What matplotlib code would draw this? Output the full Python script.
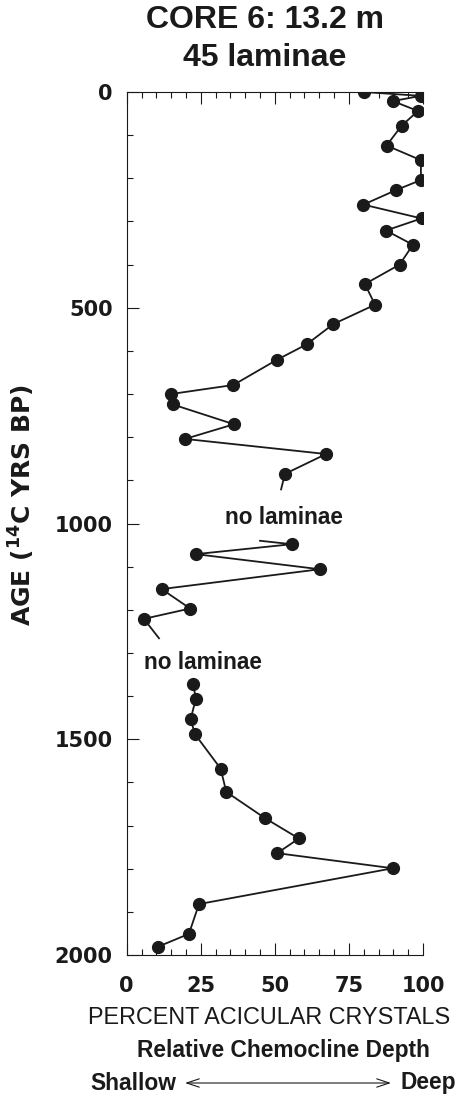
import matplotlib.pyplot as plt
from matplotlib.ticker import MultipleLocator

# ----------------------------------------------------------------
# Data
# ----------------------------------------------------------------
# upper laminated section
age_a = [0, 9, 21, 44, 78, 124, 158, 204, 227, 261, 293, 321, 354, 400,
         445, 493, 538, 585, 621, 679, 700, 724, 770, 804, 839, 885]
pct_a = [80, 99.3, 89.8, 98.3, 92.8, 87.7, 99.3, 99.3, 91, 79.9, 99.5, 87.5,
         96.6, 92.1, 80.4, 83.8, 69.7, 60.7, 50.6, 36.0, 14.9, 15.5, 36.2,
         19.7, 67.3, 53.4]

# middle laminated section
age_b = [1048, 1071, 1106, 1152, 1197, 1221]
pct_b = [55.7, 23.3, 65.2, 11.8, 21.4, 5.8]

# lower laminated section
age_c = [1372, 1407, 1453, 1488, 1568, 1622, 1683, 1730, 1764, 1799, 1882,
         1951, 1981]
pct_c = [22.5, 23.3, 21.6, 23.0, 31.7, 33.6, 46.7, 58.1, 50.8, 89.8, 24.4,
         21.0, 10.5]

# short line ends running into the unlaminated gaps
stub_a_end = (52.1, 921)
stub_b_start = (45, 1040)
stub_b_end = (10.9, 1266)

x_ticks = [0, 25, 50, 75, 100]
y_ticks = [0, 500, 1000, 1500, 2000]

# ----------------------------------------------------------------
# Figure
# ----------------------------------------------------------------
W, H = 458, 1099
INK = "#1a1a1a"
fig = plt.figure(figsize=(W / 100, H / 100), dpi=100)
ax = fig.add_axes([126.7 / W, 1 - 955 / H, (423 - 126.7) / W, (955 - 92) / H])

line_kw = dict(color=INK, lw=1.3, zorder=2)
dot_kw = dict(color=INK, marker="o", ms=8.5, ls="none", zorder=3)

ax.plot(pct_a + [stub_a_end[0]], age_a + [stub_a_end[1]], **line_kw)
ax.plot([stub_b_start[0]] + pct_b + [stub_b_end[0]],
        [stub_b_start[1]] + age_b + [stub_b_end[1]], **line_kw)
ax.plot(pct_c, age_c, **line_kw)
for p, a in [(pct_a, age_a), (pct_b, age_b), (pct_c, age_c)]:
    ax.plot(p, a, **dot_kw)

ax.set_xlim(0, 100)
ax.set_ylim(2000, 0)
ax.set_xticks(x_ticks)
ax.set_yticks(y_ticks)
ax.xaxis.set_minor_locator(MultipleLocator(5))
ax.yaxis.set_minor_locator(MultipleLocator(100))

ax.spines["right"].set_visible(False)
for s in ["left", "top", "bottom"]:
    ax.spines[s].set_linewidth(0.8)
    ax.spines[s].set_color(INK)

ax.tick_params(axis="x", which="both", direction="in", top=True, bottom=True,
               labeltop=False, color=INK, width=0.8)
ax.tick_params(axis="y", which="both", direction="in", left=True, right=False,
               color=INK, width=0.8)
ax.tick_params(which="major", length=8.5)
ax.tick_params(which="minor", length=4.5)
ax.tick_params(axis="x", which="major", pad=15, labelsize=15)
ax.tick_params(axis="y", which="major", pad=10, labelsize=15)
for lab in ax.get_xticklabels() + ax.get_yticklabels():
    lab.set_fontweight("bold")
    lab.set_family("DejaVu Sans")
    lab.set_color(INK)

# --- text ---
txt = dict(fontweight="bold", family="Liberation Sans", color=INK)
ax.text(53, 985, "no laminae", fontsize=16.3, ha="center", va="center", **txt)
ax.text(25.6, 1323, "no laminae", fontsize=16.3, ha="center", va="center", **txt)

fig.text(265 / W, 1 - 20 / H, "CORE 6: 13.2 m", fontsize=23,
         ha="center", va="center", **txt)
fig.text(265 / W, 1 - 58 / H, "45 laminae", fontsize=23,
         ha="center", va="center", **txt)

fig.text(22 / W, 1 - 505 / H, r"AGE ($\mathbf{^{14}}$C YRS BP)", rotation=90,
         fontsize=18, fontweight="bold", ha="center", va="center",
         family="DejaVu Sans", color=INK)

fig.text(269 / W, 1 - 1017 / H, "PERCENT ACICULAR CRYSTALS", fontsize=16.8,
         ha="center", va="center", family="Liberation Sans", color=INK)
fig.text(283 / W, 1 - 1051 / H, "Relative Chemocline Depth", fontsize=16.4,
         ha="center", va="center", **txt)
fig.text(176 / W, 1 - 1083 / H, "Shallow", fontsize=16.4,
         ha="right", va="center", **txt)
fig.text(400 / W, 1 - 1083 / H, "Deep", fontsize=16.4,
         ha="left", va="center", **txt)
fig.add_artist(plt.Annotation(
    "", xy=(391 / W, 1 - 1083 / H), xytext=(185 / W, 1 - 1083 / H),
    xycoords="figure fraction", textcoords="figure fraction",
    arrowprops=dict(arrowstyle="<->,head_length=0.9,head_width=0.3",
                    lw=0.8, color=INK, shrinkA=0, shrinkB=0)))

fig.savefig("out.png", dpi=100)
plt.close(fig)
